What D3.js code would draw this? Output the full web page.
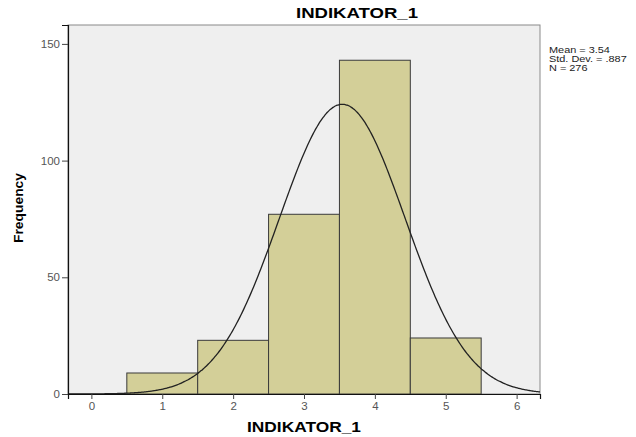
<!DOCTYPE html>
<html>
<head>
<meta charset="utf-8">
<script src="https://cdn.jsdelivr.net/npm/d3@7"></script>
<style>
  body { margin: 0; background: #fff; }
  text { font-family: "Liberation Sans", Arial, sans-serif; }
</style>
</head>
<body>
<div id="chart"></div>
<script>
const binLabels = [1, 2, 3, 4, 5];
const counts = [9, 23, 77, 143, 24];
const xTicks = [0, 1, 2, 3, 4, 5, 6];
const yTicks = [0, 50, 100, 150];
const stats = ["Mean = 3.54", "Std. Dev. = .887", "N = 276"];
const mean = 3.54, sd = 0.887, n = 276;

const width = 636, height = 437;
const margin = {top: 25, right: 96, bottom: 43, left: 68};

const svg = d3.select("#chart").append("svg")
    .attr("width", width)
    .attr("height", height);

const x = d3.scaleLinear()
    .domain([-0.33, 6.33])
    .range([margin.left, width - margin.right]);

const y = d3.scaleLinear()
    .domain([0, 158.1])
    .range([height - margin.bottom, margin.top]);

// plot background
svg.append("rect")
    .attr("x", margin.left)
    .attr("y", margin.top)
    .attr("width", x.range()[1] - x.range()[0])
    .attr("height", y.range()[0] - y.range()[1])
    .attr("fill", "#efefef")
    .attr("stroke", "#8a8a8a")
    .attr("stroke-width", 1);

svg.append("defs").append("clipPath").attr("id", "clip")
  .append("rect")
    .attr("x", margin.left)
    .attr("y", margin.top)
    .attr("width", x.range()[1] - x.range()[0])
    .attr("height", y.range()[0] - y.range()[1]);

// bars
svg.append("g")
  .selectAll("rect")
  .data(counts)
  .join("rect")
    .attr("x", (d, i) => x(binLabels[i] - 0.5))
    .attr("y", d => y(d))
    .attr("width", (d, i) => x(binLabels[i] + 0.5) - x(binLabels[i] - 0.5))
    .attr("height", d => y(0) - y(d))
    .attr("fill", "#d3cf98")
    .attr("stroke", "#3a3a3a")
    .attr("stroke-width", 1);

// normal curve
const pts = d3.range(-0.33, 6.34, 0.02).map(v => [v, n * Math.exp(-0.5 * ((v - mean) / sd) ** 2) / (sd * Math.sqrt(2 * Math.PI))]);
svg.append("path")
    .datum(pts)
    .attr("clip-path", "url(#clip)")
    .attr("fill", "none")
    .attr("stroke", "#222")
    .attr("stroke-width", 1.3)
    .attr("d", d3.line().x(d => x(d[0])).y(d => y(d[1])).curve(d3.curveBasis));

// axes
const yAxis = svg.append("g")
    .attr("transform", `translate(${margin.left},0)`)
    .call(d3.axisLeft(y).tickValues(yTicks).tickFormat(d3.format("d")).tickSize(6).tickPadding(2));
yAxis.select(".domain").attr("stroke", "#111").attr("stroke-width", 1.2);

const xAxis = svg.append("g")
    .attr("transform", `translate(0,${height - margin.bottom})`)
    .call(d3.axisBottom(x).tickValues(xTicks).tickFormat(d3.format("d")).tickSize(5).tickPadding(3));
xAxis.select(".domain").attr("stroke", "#111").attr("stroke-width", 1.2);

svg.selectAll(".tick line").attr("stroke", "#444");
svg.selectAll(".tick text")
    .attr("fill", "#555")
    .attr("font-size", 11.5)
    .style("font-family", "Liberation Sans, Arial, sans-serif");

// titles
svg.append("text")
    .attr("x", 357)
    .attr("y", 18)
    .attr("text-anchor", "middle")
    .attr("font-weight", "bold")
    .attr("font-size", 14)
    .attr("textLength", 122)
    .attr("lengthAdjust", "spacingAndGlyphs")
    .text("INDIKATOR_1");

svg.append("text")
    .attr("x", (x.range()[0] + x.range()[1]) / 2)
    .attr("y", 432)
    .attr("text-anchor", "middle")
    .attr("font-weight", "bold")
    .attr("font-size", 14)
    .attr("textLength", 114)
    .attr("lengthAdjust", "spacingAndGlyphs")
    .text("INDIKATOR_1");

svg.append("text")
    .attr("transform", "translate(23,208) rotate(-90)")
    .attr("text-anchor", "middle")
    .attr("font-weight", "bold")
    .attr("font-size", 13)
    .attr("textLength", 70)
    .attr("lengthAdjust", "spacingAndGlyphs")
    .text("Frequency");

// stats legend
svg.append("g")
    .attr("transform", "translate(549,0) scale(1.15,1)")
  .selectAll("text")
  .data(stats)
  .join("text")
    .attr("x", 0)
    .attr("y", (d, i) => 53 + i * 9)
    .attr("font-size", 9.5)
    .attr("fill", "#222")
    .text(d => d);
</script>
</body>
</html>
